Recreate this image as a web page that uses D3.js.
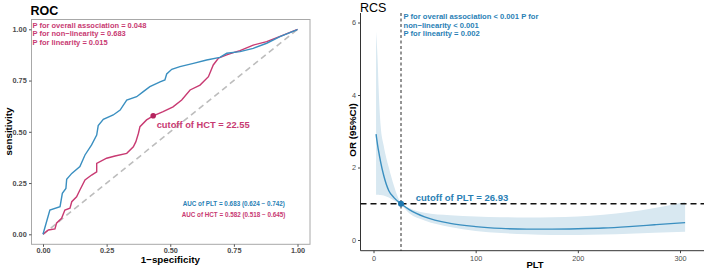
<!DOCTYPE html>
<html>
<head>
<meta charset="utf-8">
<script src="https://cdn.jsdelivr.net/npm/d3@7"></script>
<style>
  body { margin: 0; background: #fff; }
  svg { display: block; font-family: "Liberation Sans", Arial, sans-serif; }
</style>
</head>
<body>
<div id="container"></div>
<script>
// ROC curves (false positive rate / true positive rate)
const pltFpr = [0, 0.027, 0.067, 0.076, 0.09, 0.093, 0.113, 0.145, 0.165, 0.191, 0.211, 0.217, 0.237, 0.276, 0.303, 0.329, 0.368, 0.394, 0.42, 0.46, 0.479, 0.486, 0.506, 0.538, 0.591, 0.643, 0.695, 0.722, 0.774, 0.826, 0.879, 0.931, 0.997, 1];
const pltTpr = [0, 0.118, 0.135, 0.2, 0.224, 0.268, 0.297, 0.33, 0.387, 0.436, 0.484, 0.53, 0.561, 0.582, 0.606, 0.655, 0.671, 0.696, 0.72, 0.744, 0.753, 0.782, 0.805, 0.818, 0.834, 0.85, 0.863, 0.883, 0.891, 0.907, 0.932, 0.964, 0.997, 1];
const hctFpr = [0, 0.021, 0.047, 0.053, 0.073, 0.086, 0.106, 0.113, 0.132, 0.145, 0.165, 0.191, 0.211, 0.211, 0.25, 0.283, 0.329, 0.355, 0.365, 0.375, 0.381, 0.407, 0.433, 0.472, 0.511, 0.545, 0.578, 0.617, 0.65, 0.669, 0.689, 0.722, 0.748, 0.774, 0.826, 0.879, 0.944, 1];
const hctTpr = [0, 0.021, 0.026, 0.054, 0.078, 0.118, 0.127, 0.159, 0.183, 0.216, 0.265, 0.289, 0.305, 0.346, 0.371, 0.382, 0.395, 0.427, 0.452, 0.493, 0.525, 0.558, 0.578, 0.598, 0.622, 0.655, 0.704, 0.728, 0.769, 0.826, 0.859, 0.875, 0.886, 0.896, 0.923, 0.94, 0.972, 1];
const hctCutoff = [0.433, 0.578];
const rocTicks = [0, 0.25, 0.5, 0.75, 1];
const rocPText = ["P for overall association = 0.048", "P for non\u2212linearity = 0.683", "P for linearity = 0.015"];
const aucText = ["AUC of PLT = 0.683 (0.624 \u2212 0.742)", "AUC of HCT = 0.582 (0.518 \u2212 0.645)"];

// RCS curve
const rcsPlt   = [2.5, 4, 5, 7, 10, 15, 20, 26.93, 35, 50, 75, 100, 125, 150, 175, 200, 225, 250, 275, 305];
const rcsOr    = [2.92, 2.62, 2.45, 2.15, 1.78, 1.36, 1.17, 1.0, 0.84, 0.64, 0.46, 0.37, 0.32, 0.3, 0.3, 0.31, 0.33, 0.37, 0.42, 0.48];
const rcsLower = [1.25, 1.25, 1.25, 1.24, 1.23, 1.17, 1.09, 0.97, 0.74, 0.54, 0.36, 0.25, 0.19, 0.16, 0.14, 0.14, 0.15, 0.17, 0.2, 0.23];
const rcsUpper = [5.75, 5.0, 4.2, 3.15, 2.6, 2.0, 1.5, 1.02, 0.88, 0.75, 0.68, 0.65, 0.63, 0.62, 0.63, 0.65, 0.7, 0.77, 0.88, 1.05];
const pltCutoff = 26.93;
const rcsXTicks = [0, 100, 200, 300];
const rcsYTicks = [0, 2, 4, 6];
const rcsPText = ["P for overall association < 0.001 P for", "non\u2212linearity < 0.001", "P for linearity = 0.002"];

const blue = "#3a8fc0";
const red = "#c83a72";
const textBlue = "#2a7fb5";

const w = 706, h = 270;
const svg = d3.select('#container').append('svg')
    .attr('width', w)
    .attr('height', h);

// scale a group of text lines so its first line spans the wanted width
const fitText = (sel, width) => {
    const first = sel.node();
    const size = parseFloat(first.style.fontSize);
    const len = first.getComputedTextLength();
    if (len > 0) sel.style('font-size', (size * width / len).toFixed(2) + 'px');
};

// ---------- ROC ----------
const roc = { left: 31.5, right: 310, top: 19.5, bottom: 244.3 };

const xRoc = d3.scaleLinear().domain([0, 1]).range([43, 297.5]);
const yRoc = d3.scaleLinear().domain([0, 1]).range([234.3, 29.3]);

svg.append('rect')
    .attr('x', roc.left).attr('y', roc.top)
    .attr('width', roc.right - roc.left).attr('height', roc.bottom - roc.top)
    .attr('fill', 'none').attr('stroke', '#a8a8a8').attr('stroke-width', 1);

const xAxisRoc = d3.axisBottom(xRoc).tickValues(rocTicks).tickFormat(d3.format('.2f')).tickSize(2.5).tickPadding(1.2);
const yAxisRoc = d3.axisLeft(yRoc).tickValues(rocTicks).tickFormat(d3.format('.2f')).tickSize(2.5).tickPadding(2.3);

const gx = svg.append('g').attr('transform', `translate(0,${roc.bottom})`).call(xAxisRoc);
const gy = svg.append('g').attr('transform', `translate(${roc.left},0)`).call(yAxisRoc);
[gx, gy].forEach(g => {
    g.select('.domain').remove();
    g.selectAll('line').attr('stroke', '#555');
    g.selectAll('text').attr('fill', '#4d4d4d').style('font-size', '7.3px').style('font-weight', 'bold');
});

// diagonal reference
svg.append('line')
    .attr('x1', xRoc(0)).attr('y1', yRoc(0)).attr('x2', xRoc(1)).attr('y2', yRoc(1))
    .attr('stroke', '#bdbdbd').attr('stroke-width', 1.6).attr('stroke-dasharray', '6,4');

const rocLine = d3.line().x(d => xRoc(d[0])).y(d => yRoc(d[1]));

svg.append('path')
    .datum(hctFpr.map((d, i) => [d, hctTpr[i]]))
    .attr('d', rocLine).attr('fill', 'none').attr('stroke', red).attr('stroke-width', 1.4);
svg.append('path')
    .datum(pltFpr.map((d, i) => [d, pltTpr[i]]))
    .attr('d', rocLine).attr('fill', 'none').attr('stroke', blue).attr('stroke-width', 1.4);

svg.append('circle')
    .attr('cx', xRoc(hctCutoff[0])).attr('cy', yRoc(hctCutoff[1])).attr('r', 2.8)
    .attr('fill', '#b5245f');

const hctLabel = svg.append('text')
    .attr('x', xRoc(hctCutoff[0]) + 3.5).attr('y', yRoc(hctCutoff[1]) + 12.3)
    .attr('fill', red).style('font-size', '9.5px').style('font-weight', 'bold')
    .text('cutoff of HCT = 22.55');
fitText(hctLabel, 93);

const rocP = svg.selectAll('.rocp')
    .data(rocPText).enter().append('text')
    .attr('x', 32.5).attr('y', (d, i) => 27.7 + i * 8.4)
    .attr('fill', red).style('font-size', '7.5px').style('font-weight', 'bold')
    .text(d => d);
fitText(rocP, 114);

const auc = svg.selectAll('.auc')
    .data(aucText).enter().append('text')
    .attr('x', (d, i) => i === 0 ? 182.7 : 181.7).attr('y', (d, i) => 206 + i * 11)
    .attr('fill', (d, i) => i === 0 ? textBlue : red)
    .style('font-size', '6.4px').style('font-weight', 'bold')
    .text(d => d);
fitText(auc, 102);

svg.append('text')
    .attr('x', 30.5).attr('y', 14.5)
    .style('font-size', '12.5px').style('font-weight', 'bold')
    .text('ROC');

svg.append('text')
    .attr('transform', 'translate(11.5,131.5) rotate(-90)')
    .attr('text-anchor', 'middle')
    .style('font-size', '9.8px').style('font-weight', 'bold')
    .text('sensitivity');

svg.append('text')
    .attr('x', 170.3).attr('y', 263.3)
    .attr('text-anchor', 'middle')
    .style('font-size', '9.8px').style('font-weight', 'bold')
    .text('1\u2212specificity');

// ---------- RCS ----------
const rcs = { left: 360.5, right: 704, top: 13, bottom: 250.7 };

const xRcs = d3.scaleLinear().domain([0, 300]).range([373.5, 680]);
const yRcs = d3.scaleLinear().domain([0, 6]).range([240, 22.5]);

const xAxisRcs = d3.axisBottom(xRcs).tickValues(rcsXTicks).tickFormat(d3.format('d')).tickSize(2.5).tickPadding(2.6);
const yAxisRcs = d3.axisLeft(yRcs).tickValues(rcsYTicks).tickFormat(d3.format('d')).tickSize(2.5).tickPadding(2);

const gx2 = svg.append('g').attr('transform', `translate(0,${rcs.bottom})`).call(xAxisRcs);
const gy2 = svg.append('g').attr('transform', `translate(${rcs.left},0)`).call(yAxisRcs);
[gx2, gy2].forEach(g => {
    g.select('.domain').remove();
    g.selectAll('line').attr('stroke', '#444');
    g.selectAll('text').attr('fill', '#4d4d4d').style('font-size', '7.3px');
});

svg.append('line')
    .attr('x1', rcs.left).attr('x2', rcs.left).attr('y1', rcs.top).attr('y2', rcs.bottom)
    .attr('stroke', '#333').attr('stroke-width', 1);
svg.append('line')
    .attr('x1', rcs.left).attr('x2', rcs.right).attr('y1', rcs.bottom).attr('y2', rcs.bottom)
    .attr('stroke', '#333').attr('stroke-width', 1);

const band = d3.area()
    .x((d, i) => xRcs(rcsPlt[i]))
    .y0((d, i) => yRcs(rcsLower[i]))
    .y1((d, i) => yRcs(rcsUpper[i]))
    .curve(d3.curveMonotoneX);

svg.append('path')
    .datum(rcsPlt)
    .attr('d', band)
    .attr('fill', '#d8e8f1');

svg.append('line')
    .attr('x1', rcs.left).attr('x2', rcs.right)
    .attr('y1', yRcs(1)).attr('y2', yRcs(1))
    .attr('stroke', '#111').attr('stroke-width', 1.4).attr('stroke-dasharray', '6,4');

svg.append('line')
    .attr('x1', xRcs(pltCutoff)).attr('x2', xRcs(pltCutoff))
    .attr('y1', rcs.top).attr('y2', rcs.bottom)
    .attr('stroke', '#111').attr('stroke-width', 0.9).attr('stroke-dasharray', '3,2.5');

const rcsLine = d3.line()
    .x((d, i) => xRcs(rcsPlt[i]))
    .y((d, i) => yRcs(rcsOr[i]))
    .curve(d3.curveMonotoneX);

svg.append('path')
    .datum(rcsPlt)
    .attr('d', rcsLine)
    .attr('fill', 'none').attr('stroke', blue).attr('stroke-width', 1.4);

svg.append('circle')
    .attr('cx', xRcs(pltCutoff)).attr('cy', yRcs(1)).attr('r', 3)
    .attr('fill', '#1f78b0');

const pltLabel = svg.append('text')
    .attr('x', 415.7).attr('y', yRcs(1) - 2.8)
    .attr('fill', textBlue).style('font-size', '9.5px').style('font-weight', 'bold')
    .text('cutoff of PLT = 26.93');
fitText(pltLabel, 92.7);

const rcsP = svg.selectAll('.rcsp')
    .data(rcsPText).enter().append('text')
    .attr('x', 403.5).attr('y', (d, i) => 19.4 + i * 8.5)
    .attr('fill', textBlue).style('font-size', '7.5px').style('font-weight', 'bold')
    .text(d => d);
fitText(rcsP, 135);

svg.append('text')
    .attr('x', 360).attr('y', 11.7)
    .style('font-size', '12.5px')
    .text('RCS');

svg.append('text')
    .attr('transform', 'translate(355.5,130) rotate(-90)')
    .attr('text-anchor', 'middle')
    .style('font-size', '9.8px').style('font-weight', 'bold')
    .text('OR (95%CI)');

svg.append('text')
    .attr('x', 535).attr('y', 268.3)
    .attr('text-anchor', 'middle')
    .style('font-size', '9.5px').style('font-weight', 'bold')
    .text('PLT');
</script>
</body>
</html>
